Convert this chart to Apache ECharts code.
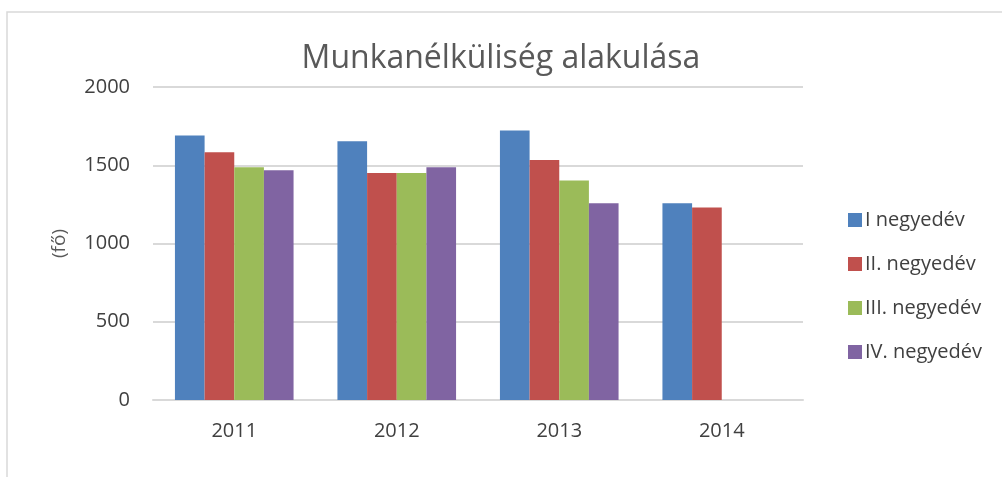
<!DOCTYPE html>
<html>
<head>
<meta charset="utf-8">
<script src="https://cdn.jsdelivr.net/npm/echarts@6/dist/echarts.min.js"></script>
<style>
  html, body { margin: 0; padding: 0; background: #fff; }
  #chart { width: 1002px; height: 477px; }
</style>
</head>
<body>
<div id="chart"></div>
<script>
var years = ['2011', '2012', '2013', '2014'];
var q1 = [1690, 1653, 1722, 1257];
var q2 = [1583, 1451, 1534, 1230];
var q3 = [1487, 1451, 1402, null];
var q4 = [1468, 1487, 1257, null];
var seriesNames = ['I negyedév', 'II. negyedév', 'III. negyedév', 'IV. negyedév'];
var colors = ['#4F81BD', '#C0504D', '#9BBB59', '#8064A2'];

var font = '"Open Sans", "DejaVu Sans", sans-serif';
var chart = echarts.init(document.getElementById('chart'));

function makeSeries(name, data) {
    return {
        name: name,
        type: 'bar',
        data: data,
        barGap: 0,
        barCategoryGap: '27%'
    };
}

chart.setOption({
    animation: false,
    color: colors,
    title: {
        text: 'Munkanélküliség alakulása',
        left: 'center',
        top: 38,
        textStyle: { fontFamily: font, fontSize: 32, fontWeight: 'normal', color: '#595959' }
    },
    graphic: [{
        type: 'rect',
        shape: { x: 7, y: 12, width: 1100, height: 500 },
        style: { fill: null, stroke: '#d9d9d9', lineWidth: 1.5 },
        silent: true
    }],
    legend: {
        orient: 'vertical',
        left: 843,
        top: 205,
        itemWidth: 14,
        itemHeight: 14,
        itemGap: 24,
        icon: 'rect',
        data: seriesNames,
        textStyle: { fontFamily: font, fontSize: 20, color: '#404040', padding: [0, 0, 0, -2] }
    },
    grid: { left: 153, right: 199, top: 87, bottom: 77 },
    xAxis: {
        type: 'category',
        data: years,
        axisTick: { show: false },
        axisLine: { lineStyle: { color: '#d9d9d9', width: 2 } },
        axisLabel: { fontFamily: font, fontSize: 20, color: '#404040', margin: 21 }
    },
    yAxis: {
        type: 'value',
        min: 0,
        max: 2000,
        interval: 500,
        name: '(fő)',
        nameLocation: 'middle',
        nameGap: 84,
        nameTextStyle: { fontFamily: font, fontSize: 19, color: '#595959' },
        axisLine: { show: false },
        axisTick: { show: false },
        splitLine: { lineStyle: { color: '#d9d9d9', width: 2 } },
        axisLabel: {
            fontFamily: font, fontSize: 20, color: '#404040', margin: 23,
            formatter: function (v) { return String(v); }
        }
    },
    series: [
        makeSeries(seriesNames[0], q1),
        makeSeries(seriesNames[1], q2),
        makeSeries(seriesNames[2], q3),
        makeSeries(seriesNames[3], q4)
    ]
});
</script>
</body>
</html>
